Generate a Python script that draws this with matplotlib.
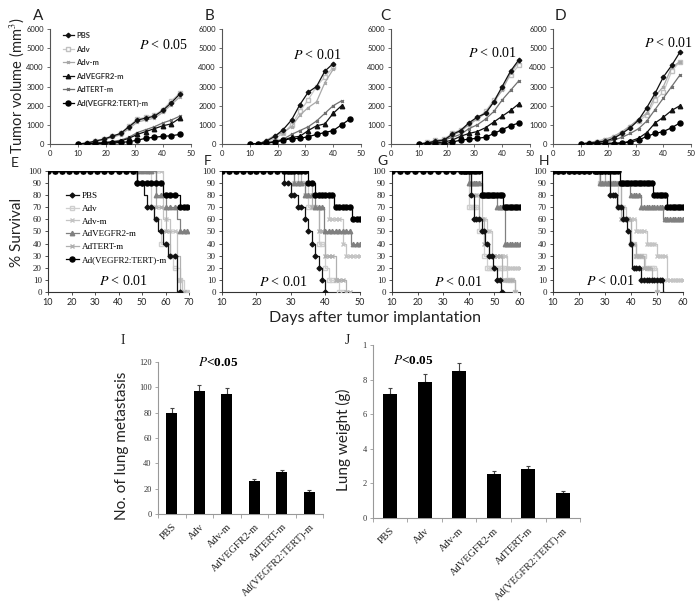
import numpy as np
import matplotlib
matplotlib.use("Agg")
import matplotlib.pyplot as plt

plt.rcParams["mathtext.fontset"] = "stix"

# ── Data ──────────────────────────────────────────────────────────────────────

groups = ["PBS", "Adv", "Adv-m", "AdVEGFR2-m", "AdTERT-m", "Ad(VEGFR2:TERT)-m"]

# tumour volume (mm^3), measured every 3 days from day 10
vol_days = [10, 13, 16, 19, 22, 25, 28, 31, 34, 37, 40, 43, 46]

vol_A = {
    "PBS":               [0, 50, 150, 250, 400, 550, 900, 1250, 1350, 1450, 1750, 2150, 2600],
    "Adv":               [0, 60, 170, 280, 420, 550, 950, 1300, 1400, 1500, 1800, 2250, 2650],
    "Adv-m":             [0, 40, 120, 220, 350, 480, 800, 1150, 1250, 1350, 1650, 2050, 2450],
    "AdVEGFR2-m":        [0, 20, 40, 60, 100, 150, 300, 500, 650, 800, 950, 1050, 1350],
    "AdTERT-m":          [0, 30, 60, 90, 130, 200, 350, 600, 750, 900, 1100, 1250, 1450],
    "Ad(VEGFR2:TERT)-m": [0, 0, 20, 40, 50, 80, 120, 200, 300, 350, 400, 430, 500],
}
vol_B = {
    "PBS":               [0, 0, 150, 400, 750, 1250, 2050, 2700, 3000, 3800, 4200],
    "Adv":               [0, 0, 100, 300, 550, 1000, 1700, 2300, 3000, 3500, 4000],
    "Adv-m":             [0, 0, 200, 450, 600, 900, 1500, 1900, 2200, 3200, 3900],
    "AdVEGFR2-m":        [0, 0, 50, 100, 200, 350, 400, 700, 950, 1050, 1600, 2000],
    "AdTERT-m":          [0, 0, 80, 150, 250, 500, 700, 900, 1200, 1600, 2000, 2250],
    "Ad(VEGFR2:TERT)-m": [0, 0, 50, 100, 200, 280, 300, 380, 500, 600, 700, 1000, 1300],
}
vol_C = {
    "PBS":               [0, 50, 150, 200, 500, 700, 1100, 1400, 1600, 2200, 3000, 3800, 4400],
    "Adv":               [0, 80, 200, 250, 550, 750, 1050, 1350, 1700, 2300, 2900, 3600, 4100],
    "Adv-m":             [0, 70, 180, 250, 450, 650, 1000, 1300, 1600, 2200, 2800, 3700, 4300],
    "AdVEGFR2-m":        [0, 30, 60, 100, 200, 400, 550, 650, 850, 1150, 1450, 1750, 2100],
    "AdTERT-m":          [0, 50, 120, 200, 350, 500, 800, 1000, 1300, 1700, 2300, 2800, 3300],
    "Ad(VEGFR2:TERT)-m": [0, 0, 0, 0, 100, 200, 250, 300, 350, 550, 750, 950, 1100],
}
vol_D = {
    "PBS":               [0, 50, 100, 150, 300, 550, 850, 1250, 1900, 2650, 3500, 4100, 4800],
    "Adv":               [0, 70, 120, 200, 350, 600, 900, 1200, 1500, 2300, 2700, 3800, 4300],
    "Adv-m":             [0, 80, 150, 250, 400, 650, 950, 1300, 1600, 2500, 3000, 4000, 4300],
    "AdVEGFR2-m":        [0, 20, 30, 40, 50, 50, 150, 300, 600, 1100, 1400, 1750, 2000],
    "AdTERT-m":          [0, 40, 80, 120, 200, 350, 550, 800, 1200, 1800, 2400, 3000, 3600],
    "Ad(VEGFR2:TERT)-m": [0, 0, 0, 0, 20, 50, 100, 200, 400, 550, 650, 850, 1100],
}

# survival (%): step times and levels, last entry marks the end of follow-up
surv_E = {
    "PBS":               ([10, 48, 51, 52, 55, 57, 59, 61, 65, 66], [100, 90, 80, 70, 60, 50, 40, 30, 0, 0]),
    "Adv":               ([10, 54, 55, 58, 62, 63, 66, 68, 69], [100, 70, 60, 40, 30, 20, 10, 0, 0]),
    "Adv-m":             ([10, 59, 62, 65, 67, 69], [100, 60, 50, 10, 0, 0]),
    "AdVEGFR2-m":        ([10, 56, 60, 65, 66, 69], [100, 80, 70, 60, 50, 50]),
    "AdTERT-m":          ([10, 56, 60, 62, 66, 68], [100, 70, 50, 30, 0, 0]),
    "Ad(VEGFR2:TERT)-m": ([10, 48, 59, 66, 69], [100, 90, 80, 70, 70]),
}
surv_F = {
    "PBS":               ([10, 28, 30, 32, 34, 35, 36, 37, 38, 39, 40, 40.5], [100, 90, 80, 70, 60, 50, 40, 30, 20, 10, 0, 0]),
    "Adv":               ([10, 31, 35, 38, 40, 41, 44, 45], [100, 90, 70, 40, 20, 10, 0, 0]),
    "Adv-m":             ([10, 32, 34, 41, 45, 46, 50], [100, 90, 80, 60, 40, 30, 30]),
    "AdVEGFR2-m":        ([10, 31, 34, 37, 39.5, 47.5, 50], [100, 90, 80, 70, 50, 40, 40]),
    "AdTERT-m":          ([10, 33, 36, 38, 40, 43, 46, 47], [100, 90, 70, 50, 30, 10, 0, 0]),
    "Ad(VEGFR2:TERT)-m": ([10, 35, 37, 42.5, 47.7, 50], [100, 90, 80, 70, 60, 60]),
}
surv_G = {
    "PBS":               ([10, 41, 42, 45, 46.5, 48, 49.5, 51, 52.5, 53], [100, 80, 60, 50, 40, 30, 20, 10, 0, 0]),
    "Adv":               ([10, 40, 44, 46, 47, 55, 58, 58.5], [100, 70, 50, 30, 20, 10, 0, 0]),
    "Adv-m":             ([10, 41, 45, 47, 49, 55, 60], [100, 90, 60, 50, 30, 20, 20]),
    "AdVEGFR2-m":        ([10, 40, 45, 51, 54, 60], [100, 90, 80, 70, 40, 40]),
    "AdTERT-m":          ([10, 41, 44, 46, 48, 53, 58, 58.5], [100, 80, 60, 40, 30, 10, 0, 0]),
    "Ad(VEGFR2:TERT)-m": ([10, 45, 53.5, 60], [100, 80, 70, 70]),
}
surv_H = {
    "PBS":               ([10, 32, 34.5, 37, 38.5, 39.5, 40.5, 44, 52.3, 52.8], [100, 80, 70, 60, 50, 40, 20, 10, 0, 0]),
    "Adv":               ([10, 27.5, 35, 37, 40, 42, 45.5, 50, 50.5], [100, 90, 70, 60, 40, 30, 20, 0, 0]),
    "Adv-m":             ([10, 28, 36, 38, 42, 46, 50, 54, 60], [100, 90, 70, 60, 50, 40, 30, 10, 10]),
    "AdVEGFR2-m":        ([10, 28, 39.5, 44, 52.3, 60], [100, 90, 80, 70, 60, 60]),
    "AdTERT-m":          ([10, 30, 36, 40, 42, 45, 48, 50, 50.5], [100, 90, 60, 40, 30, 20, 10, 0, 0]),
    "Ad(VEGFR2:TERT)-m": ([10, 35.6, 48.5, 54, 60], [100, 90, 80, 70, 70]),
}

# observation days where Excel drew a marker
obs_E = [10, 13, 16, 19, 22, 25, 28, 31, 34, 37, 40, 43, 46, 48, 50, 52, 54, 56, 58, 60, 62, 64, 66, 68, 69]
obs_F = [10, 12, 14, 16, 18, 20, 22, 24, 26, 28] + list(range(29, 51))
obs_G = [10, 13, 16, 19, 22, 25, 28, 31, 34, 37] + list(range(38, 61))
obs_H = [10, 12, 14, 16, 18, 20, 22, 24, 26] + list(range(27, 61))

# lung metastasis / lung weight (mean, +SE)
bar_labels = groups
metastasis = [80, 97, 95, 26, 33, 17]
metastasis_err = [4, 5, 4.8, 1.8, 2, 1.6]
lung_weight = [7.17, 7.88, 8.52, 2.54, 2.83, 1.44]
lung_weight_err = [0.37, 0.42, 0.42, 0.15, 0.15, 0.13]

# ── Styles ────────────────────────────────────────────────────────────────────

vol_style = {
    "PBS":               dict(color="#111111", marker="D", ms=2.3, mfc="#111111", mec="#111111", lw=0.9, zorder=6),
    "Adv":               dict(color="#c8c8c8", marker="s", ms=3.5, mfc="white", mec="#c0c0c0", lw=0.9, zorder=3),
    "Adv-m":             dict(color="#a8a8a8", marker="x", ms=2.0, mec="#a8a8a8", lw=0.9, zorder=3),
    "AdVEGFR2-m":        dict(color="#111111", marker="^", ms=3.2, mfc="#111111", mec="#111111", lw=0.9, zorder=5),
    "AdTERT-m":          dict(color="#707070", marker="x", ms=2.0, mec="#707070", lw=0.9, zorder=4),
    "Ad(VEGFR2:TERT)-m": dict(color="#000000", marker="o", ms=3.6, mfc="#000000", mec="#000000", lw=0.9, zorder=7),
}
surv_style = {
    "PBS":               dict(color="#111111", marker="D", ms=2.5, mfc="#111111", mec="#111111", lw=0.9, zorder=6),
    "Adv":               dict(color="#cfcfcf", marker="s", ms=3.5, mfc="none", mec="#cfcfcf", lw=0.9, zorder=3),
    "Adv-m":             dict(color="#c4c4c4", marker="x", ms=3.0, mec="#c4c4c4", lw=0.9, zorder=3),
    "AdVEGFR2-m":        dict(color="#808080", marker="^", ms=3.2, mfc="#808080", mec="#808080", lw=0.9, zorder=5),
    "AdTERT-m":          dict(color="#b0b0b0", marker="x", ms=3.0, mec="#b0b0b0", lw=0.9, zorder=4),
    "Ad(VEGFR2:TERT)-m": dict(color="#000000", marker="o", ms=3.6, mfc="#000000", mec="#000000", lw=0.9, zorder=7),
}

SANS = "Lato"
SERIF = "Liberation Serif"

W, H = 700, 613
fig = plt.figure(figsize=(7, 6.13), dpi=100)


def add_ax(l, t, r, b):
    return fig.add_axes([l / W, 1 - b / H, (r - l) / W, (b - t) / H])


def ftext(x, y, s, **kw):
    fig.text(x / W, 1 - y / H, s, **kw)


def clean(ax, color="#555555"):
    for side in ("top", "right"):
        ax.spines[side].set_visible(False)
    for side in ("left", "bottom"):
        ax.spines[side].set_color(color)
        ax.spines[side].set_linewidth(0.8)
    ax.tick_params(colors=color, width=0.6, length=2.5, pad=2)


# ── Tumour volume row ─────────────────────────────────────────────────────────

vol_panels = [
    ("A", vol_A, (50, 29, 191, 144), (38, 16), r"$P$ < 0.05", (163, 45)),
    ("B", vol_B, (222, 29, 361, 144), (209, 16), r"$P$ < 0.01", (317, 55)),
    ("C", vol_C, (391, 29, 530, 144), (385, 16), r"$P$ < 0.01", (492, 53)),
    ("D", vol_D, (553, 29, 691, 144), (560, 16), r"$P$ < 0.01", (668, 43)),
]
for letter, data, box, lpos, ptxt, ppos in vol_panels:
    ax = add_ax(*box)
    for g in groups:
        vals = data[g]
        ax.plot(vol_days[:len(vals)], vals, label=g, **vol_style[g])
    ax.set_xlim(0, 50)
    ax.set_ylim(0, 6000)
    ax.set_xticks([0, 10, 20, 30, 40, 50])
    ax.set_yticks(range(0, 6001, 1000))
    clean(ax)
    for lab in ax.get_xticklabels() + ax.get_yticklabels():
        lab.set_fontfamily(SANS)
        lab.set_fontsize(5.5)
        lab.set_color("#222222")
    ftext(*lpos, letter, fontsize=11, family=SANS, ha="center", va="center", color="#222222")
    ftext(*ppos, ptxt, fontsize=10, family=SERIF, ha="center", va="center")
    if letter == "A":
        leg = ax.legend(loc="upper left", bbox_to_anchor=(0.07, 1.0), frameon=False,
                        fontsize=5.5, handlelength=1.4, handletextpad=0.3,
                        labelspacing=0.85, borderaxespad=0.0)
        for t in leg.get_texts():
            t.set_fontfamily(SANS)
            t.set_fontweight("bold")
            t.set_color("#333333")

# ── Survival row ──────────────────────────────────────────────────────────────


def surv_at(t, s, days):
    idx = np.searchsorted(t, days, side="right") - 1
    return np.asarray(s)[idx]


surv_panels = [
    ("E", surv_E, obs_E, (48, 171, 189, 292), (70, [10, 20, 30, 40, 50, 60, 70]), (15, 163), (123, 281)),
    ("F", surv_F, obs_F, (222, 171, 360, 292), (50, [10, 20, 30, 40, 50]), (208, 161), (283, 282)),
    ("G", surv_G, obs_G, (392, 171, 520, 292), (60, [10, 20, 30, 40, 50, 60]), (382, 161), (458, 282)),
    ("H", surv_H, obs_H, (553, 171, 683, 292), (60, [10, 20, 30, 40, 50, 60]), (544, 161), (610, 281)),
]
for letter, data, obs, box, (xmax, xt), lpos, ppos in surv_panels:
    ax = add_ax(*box)
    for g in groups:
        t, s = data[g]
        st = dict(surv_style[g])
        ax.step(t, s, where="post", color=st["color"], lw=st["lw"], zorder=st["zorder"])
        days = np.array([d for d in obs if d <= t[-1]])
        ax.plot(days, surv_at(t, s, days), ls="none", label=g,
                **{k: v for k, v in st.items() if k not in ("color", "lw")})
    ax.set_xlim(10, xmax)
    ax.set_ylim(0, 100)
    ax.set_xticks(xt)
    ax.set_yticks(range(0, 101, 10))
    clean(ax, color="#333333")
    for lab in ax.get_xticklabels():
        lab.set_fontfamily(SANS)
        lab.set_fontsize(6.5)
        lab.set_color("#222222")
    for lab in ax.get_yticklabels():
        lab.set_fontfamily(SERIF)
        lab.set_fontsize(6.5)
        lab.set_color("#222222")
    ftext(*lpos, letter, fontsize=10, family=SANS, ha="center", va="center", color="#222222")
    ftext(*ppos, r"$P$ < 0.01", fontsize=10, family=SERIF, ha="center", va="center")
    if letter == "E":
        handles = [plt.Line2D([0], [0], color=surv_style[g]["color"], lw=0.9,
                              **{k: v for k, v in surv_style[g].items() if k not in ("color", "lw", "zorder")})
                   for g in groups]
        leg = ax.legend(handles, groups, loc="upper left", bbox_to_anchor=(0.1, 0.86), frameon=False,
                        fontsize=6.5, handlelength=1.5, handletextpad=0.3,
                        labelspacing=0.5, borderaxespad=0.0)
        for tx in leg.get_texts():
            tx.set_fontfamily(SERIF)

ftext(17, 86, "Tumor volume (mm$^3$)", fontsize=10.5, family=SANS, rotation=90,
      ha="center", va="center", color="#222222")
ftext(17, 232, "% Survival", fontsize=11, family=SANS, rotation=90,
      ha="center", va="center", color="#222222")
ftext(375, 318, "Days after tumor implantation", fontsize=11.5, family=SANS,
      ha="center", va="center", color="#222222")

# ── Bar charts ────────────────────────────────────────────────────────────────


def bar_panel(box, vals, errs, ymax, yticks, yticklabels, ylabel, ylab_x, letter, lpos, ppos):
    ax = add_ax(*box)
    x = np.arange(len(bar_labels))
    ax.bar(x, vals, width=0.4, color="black", zorder=3)
    ax.errorbar(x, vals, yerr=[np.zeros(len(errs)), errs], fmt="none",
                ecolor="#444444", elinewidth=0.8, capsize=1.5, capthick=0.8, zorder=2)
    ax.set_xlim(-0.5, len(bar_labels) - 0.5)
    ax.set_ylim(0, ymax)
    ax.set_yticks(yticks)
    ax.set_yticklabels(yticklabels)
    ax.set_xticks(x)
    ax.set_xticklabels(bar_labels, rotation=45, ha="right", rotation_mode="anchor")
    ax.set_xticks(np.arange(-0.5, len(bar_labels)), minor=True)
    clean(ax, color="#999999")
    ax.tick_params(axis="x", which="major", length=0, pad=6)
    ax.tick_params(axis="x", which="minor", length=3, width=0.6, color="#999999")
    for lab in ax.get_yticklabels():
        lab.set_fontfamily(SERIF)
        lab.set_fontsize(6)
        lab.set_color("#333333")
    for lab in ax.get_xticklabels():
        lab.set_fontfamily(SERIF)
        lab.set_fontsize(7.5)
        lab.set_color("#222222")
    ftext(ylab_x, (box[1] + box[3]) / 2 + 8, ylabel, fontsize=11, family=SANS, rotation=90,
          ha="center", va="center", color="#222222")
    ftext(*lpos, letter, fontsize=10, family=SERIF, ha="center", va="center", color="#222222")
    ftext(*ppos, r"$P$<0.05", fontsize=9.5, family=SERIF, fontweight="bold",
          ha="center", va="center")


bar_panel((158, 362, 323, 514), metastasis, metastasis_err, 120,
          range(0, 121, 20), [str(v) for v in range(0, 121, 20)],
          "No. of lung metastasis", 122, "I", (123, 341), (218, 363))
bar_panel((373, 345, 580, 518), lung_weight, lung_weight_err, 10,
          range(0, 11, 2), ["0", "2", "4", "6", "8", "1"],
          "Lung weight (g)", 343, "J", (347, 341), (413, 361))

plt.savefig("out.png", dpi=100)
